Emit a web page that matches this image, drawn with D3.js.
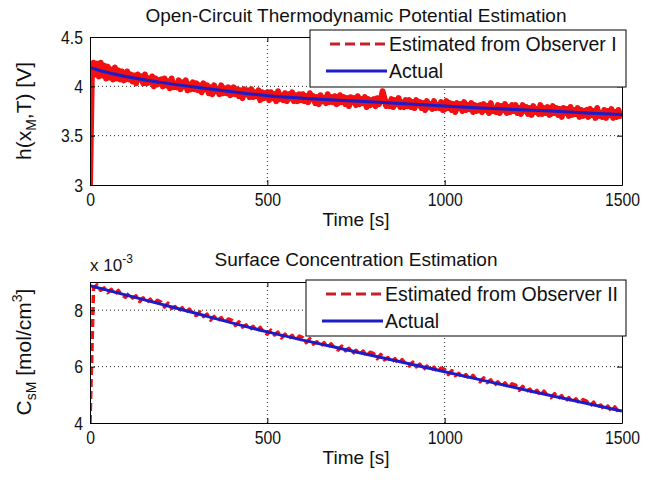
<!DOCTYPE html>
<html><head><meta charset="utf-8">
<script src="https://cdn.jsdelivr.net/npm/d3@7"></script>
<style>
body{margin:0;background:#fff}
text{font-family:"Liberation Sans",Arial,Helvetica,sans-serif;fill:#111}
</style>
</head><body>
<svg id="chart" width="663" height="487"></svg>
<script>
// ---------- data ----------
const timeTicks = [0, 500, 1000, 1500];
const hTicks = [3, 3.5, 4, 4.5];
const cTicks = [4, 6, 8];

// actual curves (sampled times)
const hActualTime = [0,50,100,200,300,400,500,600,700,800,900,1000,1100,1200,1300,1400,1500];
const hActual = [4.19,4.14,4.10,4.04,3.99,3.945,3.905,3.88,3.86,3.84,3.82,3.80,3.78,3.765,3.75,3.73,3.715];

const cActualTime = [0,250,500,750,1000,1250,1500];
const cActual = [8.87,8.05,7.23,6.52,5.82,5.11,4.42];

// estimate of observer I, every 5 s from 0 to 1500 s
const hEstStep = 5;
const hEst = [
 3.00,4.08,4.24,4.12,4.23,4.10,4.24,4.11,4.21,4.08,4.20,4.09,4.17,4.07,4.19,4.08,4.16,4.07,4.15,4.06,
 4.07,4.15,4.07,4.12,4.05,4.11,4.03,4.12,4.07,4.10,4.03,4.12,4.03,4.08,4.04,4.10,4.00,4.08,4.02,4.06,
 4.07,4.00,4.08,4.01,4.05,3.98,4.08,3.99,4.03,3.99,4.06,3.97,4.04,4.00,4.06,3.96,4.02,3.97,4.04,3.97,
 4.03,3.96,4.01,3.94,4.03,3.97,4.01,3.93,3.99,3.92,4.01,3.95,3.97,3.92,4.01,3.93,3.98,3.93,3.99,3.91,
 3.92,3.99,3.92,3.97,3.90,3.96,3.88,3.97,3.92,3.96,3.89,3.97,3.89,3.94,3.90,3.96,3.86,3.94,3.88,3.93,
 3.94,3.86,3.94,3.88,3.92,3.85,3.95,3.87,3.91,3.86,3.93,3.85,3.92,3.88,3.94,3.85,3.91,3.85,3.92,3.86,
 3.92,3.85,3.90,3.84,3.93,3.87,3.90,3.83,3.89,3.82,3.91,3.85,3.88,3.83,3.92,3.84,3.89,3.84,3.90,3.82,
 3.83,3.91,3.84,3.89,3.82,3.88,3.80,3.89,3.84,3.88,3.81,3.90,3.82,3.87,3.83,3.89,3.79,3.87,3.81,3.86,
 3.87,3.80,3.88,3.82,3.86,3.95,3.88,3.80,3.84,3.80,3.87,3.79,3.86,3.82,3.88,3.79,3.84,3.79,3.86,3.80,
 3.86,3.79,3.84,3.78,3.86,3.81,3.84,3.78,3.83,3.76,3.85,3.79,3.82,3.77,3.85,3.78,3.81,3.78,3.84,3.76,
 3.77,3.85,3.78,3.83,3.76,3.82,3.74,3.83,3.78,3.82,3.75,3.84,3.76,3.81,3.77,3.83,3.74,3.81,3.75,3.80,
 3.81,3.74,3.82,3.76,3.80,3.73,3.83,3.75,3.78,3.74,3.81,3.73,3.80,3.76,3.82,3.73,3.79,3.74,3.81,3.75,
 3.81,3.73,3.78,3.72,3.81,3.75,3.79,3.72,3.78,3.71,3.80,3.74,3.77,3.72,3.81,3.72,3.78,3.73,3.79,3.71,
 3.72,3.80,3.73,3.78,3.71,3.77,3.69,3.78,3.73,3.77,3.70,3.79,3.71,3.76,3.72,3.78,3.69,3.76,3.70,3.75,
 3.76,3.69,3.77,3.71,3.75,3.68,3.78,3.70,3.73,3.69,3.76,3.68,3.75,3.71,3.77,3.68,3.74,3.69,3.76,3.70,
 3.72
];

// estimate of observer II, every 10 s from 0 to 1500 s
const cEstStep = 10;
const cEst = [
 4.00,8.77,8.90,8.71,8.79,8.62,8.74,8.56,8.70,8.52,
 8.46,8.60,8.43,8.51,8.31,8.44,8.28,8.39,8.22,8.35,
 8.29,8.11,8.25,8.06,8.13,7.96,8.09,7.90,8.04,7.87,
 7.81,7.94,7.77,7.86,7.65,7.78,7.62,7.74,7.56,7.69,
 7.64,7.46,7.59,7.40,7.48,7.30,7.43,7.25,7.39,7.21,
 7.15,7.29,7.12,7.22,7.02,7.15,6.99,7.11,6.94,7.08,
 7.03,6.85,6.99,6.80,6.88,6.72,6.85,6.67,6.81,6.64,
 6.59,6.73,6.56,6.65,6.45,6.58,6.43,6.55,6.38,6.51,
 6.46,6.28,6.43,6.24,6.32,6.15,6.28,6.10,6.25,6.08,
 6.02,6.16,5.99,6.09,5.89,6.02,5.86,5.98,5.81,5.95,
 5.90,5.72,5.86,5.68,5.76,5.59,5.72,5.54,5.69,5.52,
 5.46,5.60,5.43,5.53,5.33,5.46,5.30,5.42,5.26,5.39,
 5.34,5.16,5.30,5.12,5.20,5.03,5.16,4.98,5.13,4.96,
 4.90,5.04,4.87,4.97,4.77,4.90,4.74,4.86,4.70,4.83,
 4.78,4.60,4.74,4.56,4.64,4.47,4.60,4.42,4.57,4.40,
 4.44
];

// ---------- drawing ----------
const RED = "#f21010", BLUE = "#1c1cc8";
const svg = d3.select("#chart");
const X0 = 90, X1 = 622;
const FONT = '"Liberation Sans",Arial,sans-serif';
const NARROW = 0.83;   // tick labels are tall and narrow in the original

function panel(o) {
  const x = d3.scaleLinear().domain([0, 1500]).range([X0, X1]);
  const y = d3.scaleLinear().domain(o.ydom).range([o.bottom, o.top]);
  const g = svg.append("g");

  // grid
  g.selectAll(".gx").data(timeTicks.filter(t => t > 0 && t < 1500)).join("line")
    .attr("x1", d => x(d)).attr("x2", d => x(d)).attr("y1", o.top).attr("y2", o.bottom)
    .attr("stroke", "#222").attr("stroke-dasharray", "1,3");
  g.selectAll(".gy").data(o.ticks.filter(t => t > o.ydom[0] && t < o.ydom[1])).join("line")
    .attr("x1", X0).attr("x2", X1).attr("y1", d => y(d)).attr("y2", d => y(d))
    .attr("stroke", "#222").attr("stroke-dasharray", "1,3");

  const cid = "clip" + o.id;
  svg.append("clipPath").attr("id", cid).append("rect")
    .attr("x", X0).attr("y", o.top).attr("width", X1 - X0).attr("height", o.bottom - o.top);
  const dg = g.append("g").attr("clip-path", `url(#${cid})`);

  const estLine = d3.line().x((d, i) => x(i * o.estStep)).y(d => y(d));
  dg.append("path").datum(o.est).attr("d", estLine)
    .attr("fill", "none").attr("stroke", RED).attr("stroke-width", o.estW)
    .attr("stroke-dasharray", o.estDash).attr("stroke-linejoin", "round");

  const actLine = d3.line().x((d, i) => x(o.actT[i])).y(d => y(d)).curve(d3.curveMonotoneX);
  dg.append("path").datum(o.act).attr("d", actLine)
    .attr("fill", "none").attr("stroke", BLUE).attr("stroke-width", 3);

  // axes
  const fmt = d3.format("~g");
  const ax = g.append("g").attr("transform", `translate(0,${o.bottom})`)
    .call(d3.axisBottom(x).tickValues(timeTicks).tickFormat(fmt).tickSizeInner(-5).tickSizeOuter(0).tickPadding(8));
  const axT = g.append("g").attr("transform", `translate(0,${o.top})`)
    .call(d3.axisTop(x).tickValues(timeTicks).tickFormat("").tickSizeInner(-5).tickSizeOuter(0));
  const ay = g.append("g").attr("transform", `translate(${X0},0)`)
    .call(d3.axisLeft(y).tickValues(o.ticks).tickFormat(fmt).tickSizeInner(-5).tickSizeOuter(0).tickPadding(7));
  const ayR = g.append("g").attr("transform", `translate(${X1},0)`)
    .call(d3.axisRight(y).tickValues(o.ticks).tickFormat("").tickSizeInner(-5).tickSizeOuter(0));
  [ax, axT, ay, ayR].forEach(a => {
    a.selectAll("path").attr("stroke", "#000");
    a.selectAll("line").attr("stroke", "#000");
    a.selectAll("text").attr("font-size", 19).attr("font-family", FONT).attr("fill", "#111");
  });
  ax.selectAll("text").attr("transform", `scale(${NARROW},1)`);
  ay.selectAll("text").attr("x", -7 / NARROW).attr("transform", `scale(${NARROW},1)`);

  // title & x label
  g.append("text").attr("x", 356).attr("y", o.titleY).attr("text-anchor", "middle")
    .attr("font-size", 19).text(o.title);
  g.append("text").attr("x", 356).attr("y", o.bottom + 41).attr("text-anchor", "middle")
    .attr("font-size", 19).text("Time [s]");

  // legend
  const L = o.legend;
  const lg = g.append("g");
  lg.append("rect").attr("x", L.x).attr("y", L.y).attr("width", L.w).attr("height", L.h)
    .attr("fill", "#fff").attr("stroke", "#000").attr("stroke-width", 1);
  lg.append("line").attr("x1", L.x + 20).attr("x2", L.x + 77).attr("y1", L.y + 14).attr("y2", L.y + 14)
    .attr("stroke", "#c8202a").attr("stroke-width", 3).attr("stroke-dasharray", "10,5");
  lg.append("line").attr("x1", L.x + 16).attr("x2", L.x + 77).attr("y1", L.y + 41).attr("y2", L.y + 41)
    .attr("stroke", BLUE).attr("stroke-width", 3);
  lg.append("text").attr("x", L.x + 79).attr("y", L.y + 21).attr("font-size", 19.5).text(L.label);
  lg.append("text").attr("x", L.x + 79).attr("y", L.y + 48).attr("font-size", 19.5).text("Actual");
  return g;
}

panel({id: 1, ydom: [3, 4.5], ticks: hTicks, top: 37, bottom: 185,
  est: hEst, estStep: hEstStep, estW: 6, estDash: null, act: hActual, actT: hActualTime,
  title: "Open-Circuit Thermodynamic Potential Estimation", titleY: 22,
  legend: {x: 310, y: 30, w: 316, h: 57, label: "Estimated from Observer I"}});

panel({id: 2, ydom: [4, 9], ticks: cTicks, top: 282, bottom: 423,
  est: cEst, estStep: cEstStep, estW: 3.5, estDash: "8,4", act: cActual, actT: cActualTime,
  title: "Surface Concentration Estimation", titleY: 266,
  legend: {x: 306, y: 280, w: 320, h: 56, label: "Estimated from Observer II"}});

// y labels
const yl1 = svg.append("text").attr("transform", "translate(31,111) rotate(-90)")
  .attr("text-anchor", "middle").attr("font-size", 21);
yl1.append("tspan").text("h(x");
yl1.append("tspan").attr("font-size", 14).attr("dy", 5).text("M");
yl1.append("tspan").attr("dy", -5).text(",T) [V]");

const yl2 = svg.append("text").attr("transform", "translate(31,352) rotate(-90)")
  .attr("text-anchor", "middle").attr("font-size", 21);
yl2.append("tspan").text("C");
yl2.append("tspan").attr("font-size", 14).attr("dy", 5).text("sM");
yl2.append("tspan").attr("dy", -5).text(" [mol/cm");
yl2.append("tspan").attr("font-size", 14).attr("dy", -9).text("3");
yl2.append("tspan").attr("dy", 9).text("]");

// exponent label
const ex = svg.append("text").attr("x", 90).attr("y", 271).attr("font-size", 17);
ex.append("tspan").text("x 10");
ex.append("tspan").attr("font-size", 12).attr("dy", -8).text("-3");
</script>
</body></html>
